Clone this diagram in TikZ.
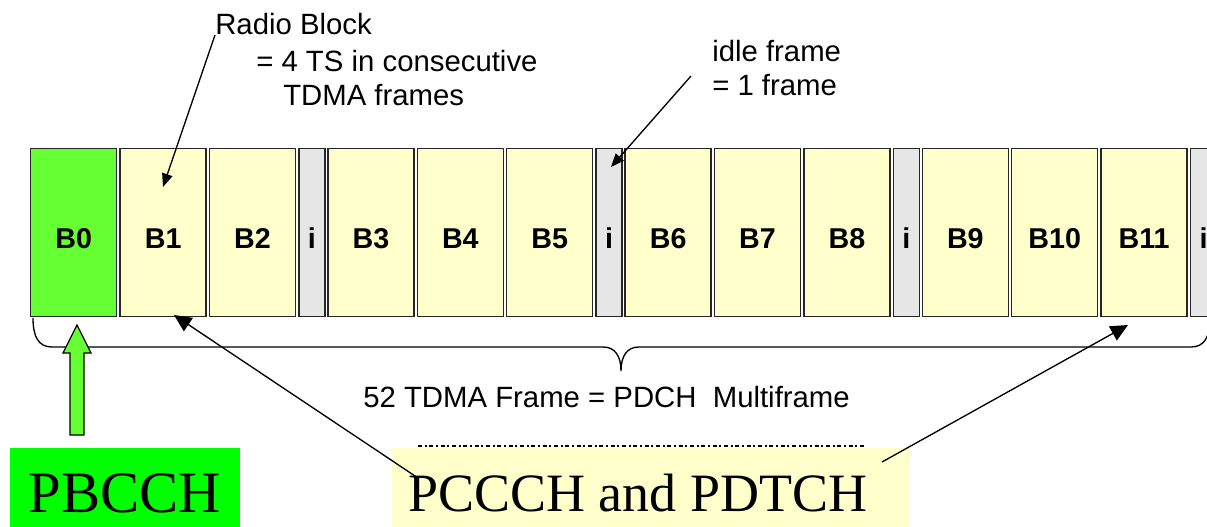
\documentclass[tikz,border=0pt]{standalone}
\usepackage{fontspec}
\setmainfont{Liberation Serif}
\setsansfont{Liberation Sans}
\usetikzlibrary{arrows.meta}
\usetikzlibrary{positioning}
\definecolor{bgreen}{HTML}{66FF33}
\definecolor{pgreen}{HTML}{00FF00}
\definecolor{byellow}{HTML}{FFFFCC}
\definecolor{igray}{HTML}{E6E6E6}
\tikzset{
 blk/.style={draw=black!85, line width=1.1pt, fill=byellow, anchor=north west, inner sep=0,
  minimum width=64.5pt, minimum height=126pt, text height=23pt, text depth=0pt,
  font=\sffamily\bfseries\fontsize{21.5}{24}\selectfont},
 idl/.style={blk, fill=igray, minimum width=19.5pt},
 anno/.style={anchor=base west, inner sep=0, font=\sffamily\fontsize{22}{24}\selectfont},
 arr/.style={line width=1pt, -{Triangle[length=10pt,width=8pt]}},
 arrbig/.style={line width=1pt, -{Triangle[length=13pt,width=12pt]}}
}
\begin{document}
\begin{tikzpicture} [x=0.75pt, y=-0.75pt]
\useasboundingbox (0,0) rectangle (1207,527);
\clip (0,0) rectangle (1207,527);
\node[blk, fill=bgreen] (b0) at (30,148) {B0};
\foreach \n/\x in {1/119.4, 2/208.8, 3/327.2, 4/416.6, 5/506, 6/624.4, 7/713.8, 8/803.2, 9/921.6, 10/1011, 11/1100.4} {
 \node[blk] (b\n) at (\x,148) {B\n};
}
\foreach \n/\x in {1/298.2, 2/595.4, 3/892.6, 4/1189.8} {
 \node[idl] (i\n) at (\x,148) {i};
}
\node[anno] (rb1) at (215,35) {Radio Block};
\node[anno] (rb2) at (256,72) {= 4 TS in consecutive};
\node[anno] (rb3) at (283,106) {TDMA frames};
\node[anno] (if1) at (712,62) {idle frame};
\node[anno] (if2) at (712,96) {= 1 frame};
\node[anno] (mf) at (363,407) {52 TDMA Frame = PDCH\ \ Multiframe};
\coordinate (rbtip) at (163,187);
\coordinate (ifstart) at (691,76);
\coordinate (iftip) at (611,167);
\draw[arr] (rb1.base west) -- (rbtip);
\draw[arr] (ifstart) -- (iftip);
\draw[line width=1pt] (33,318) .. controls (33,336) and (38,347) .. (52,347) -- (603,347)
  .. controls (615,347) and (621,356) .. (621,371) .. controls (621,356) and (627,347) .. (639,347)
  -- (1191,347) .. controls (1205,347) and (1210,336) .. (1210,318);
\fill[pgreen] (10,448) rectangle (240,527);
\node[font=\fontsize{44}{48}\selectfont, inner sep=0, anchor=base] (pb) at (125,512) {PBCCH};
\fill[byellow] (392,448) rectangle (910,527);
\draw[line width=2pt, dash pattern=on 3pt off 2pt on 1.5pt off 2pt] (418,446) -- (865,446);
\node[font=\fontsize{40.5}{44}\selectfont, inner sep=0, anchor=base west] (pc) at (408,511) {PCCCH and PDTCH};
\filldraw[fill=bgreen, draw=black, line width=1pt] (77,325) -- (91,353) -- (84,353) -- (84,435)
  -- (70,435) -- (70,353) -- (63,353) -- cycle;
\coordinate (pcl) at (418,478);
\coordinate (pcr) at (882,462);
\coordinate (b1tip) at (174,315);
\coordinate (b11tip) at (1128,325);
\draw[arrbig] (pcl) -- (b1tip);
\draw[arrbig] (pcr) -- (b11tip);
\end{tikzpicture}
\end{document}
